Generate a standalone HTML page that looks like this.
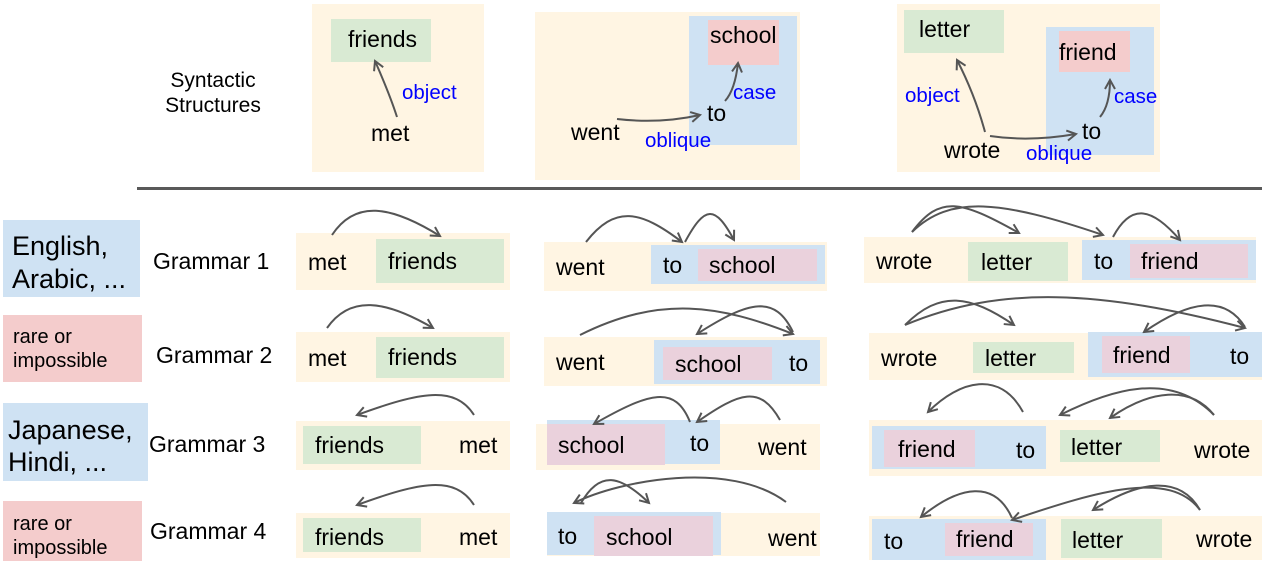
<!DOCTYPE html>
<html><head><meta charset="utf-8"><style>
body{margin:0;background:#fff}
svg{display:block}
text{font-family:"Liberation Sans",sans-serif;fill:#000}
.b{fill:#00f}
</style></head><body>
<svg width="1262" height="561" viewBox="0 0 1262 561" xmlns="http://www.w3.org/2000/svg">
<defs>
<marker id="a" viewBox="0 0 12 12" refX="10" refY="6" markerWidth="12" markerHeight="12" markerUnits="userSpaceOnUse" orient="auto">
<path d="M1,1 L10,6 L1,11" fill="none" stroke="#555" stroke-width="2"/>
</marker>
</defs>
<g fill="#fff5e3">
<rect x="312" y="4" width="172" height="168"/>
<rect x="535" y="12" width="265" height="168"/>
<rect x="897" y="4" width="263" height="168"/>
</g>
<rect x="331" y="19" width="100" height="43" fill="#d9ead3"/>
<rect x="689" y="16" width="108" height="129" fill="#cfe2f3"/>
<rect x="708" y="20" width="71" height="45" fill="#f4cccc"/>
<rect x="904" y="10" width="100" height="43" fill="#d9ead3"/>
<rect x="1046" y="27" width="108" height="128" fill="#cfe2f3"/>
<rect x="1059" y="31" width="71" height="41" fill="#f4cccc"/>
<g font-size="23">
<text x="213" y="87" text-anchor="middle" font-size="21">Syntactic</text>
<text x="213" y="112" text-anchor="middle" font-size="21">Structures</text>
<text x="348" y="47">friends</text><text x="371" y="141">met</text>
<text x="710" y="43">school</text><text x="571" y="140">went</text><text x="707" y="121">to</text>
<text x="919" y="37">letter</text><text x="1059" y="60">friend</text><text x="944" y="158">wrote</text><text x="1082" y="139">to</text>
</g>
<g font-size="20.5">
<text class="b" x="402" y="99">object</text>
<text class="b" x="733" y="99">case</text><text class="b" x="645" y="147">oblique</text>
<text class="b" x="905" y="102">object</text><text class="b" x="1114" y="103">case</text><text class="b" x="1026" y="160">oblique</text>
</g>
<g fill="none" stroke="#555" stroke-width="2" marker-end="url(#a)">
<path d="M397,117 Q390,95 375,61"/>
<path d="M617,119 Q660,124 700,115"/>
<path d="M725,101 Q735,90 738,63"/>
<path d="M985,132 Q975,95 957,60"/>
<path d="M990,136 Q1030,142 1076,134"/>
<path d="M1100,117 Q1110,105 1110,80"/>
</g>
<rect x="137" y="187" width="1125" height="3" fill="#595959"/>

<rect x="3" y="220" width="137" height="77" fill="#cfe2f3"/>
<rect x="3" y="315" width="139" height="67" fill="#f4cccc"/>
<rect x="3" y="403" width="145" height="78" fill="#cfe2f3"/>
<rect x="3" y="501" width="139" height="60" fill="#f4cccc"/>
<g font-size="27">
<text x="12" y="255">English,</text><text x="12" y="288">Arabic, ...</text>
<text x="8" y="439">Japanese,</text><text x="8" y="471">Hindi, ...</text>
</g>
<g font-size="20">
<text x="13" y="343">rare or</text><text x="13" y="367">impossible</text>
<text x="13" y="530">rare or</text><text x="13" y="554">impossible</text>
</g>
<g font-size="23">
<text x="153" y="269">Grammar 1</text><text x="156" y="363">Grammar 2</text>
<text x="149" y="452">Grammar 3</text><text x="150" y="539">Grammar 4</text>
</g>

<g fill="#fff5e3">
<rect x="296" y="233" width="214" height="57"/><rect x="296" y="332" width="214" height="50"/>
<rect x="296" y="421" width="214" height="49"/><rect x="296" y="513" width="214" height="45"/>
<rect x="544" y="242" width="283" height="49"/><rect x="544" y="337" width="283" height="49"/>
<rect x="536" y="424" width="284" height="46"/><rect x="547" y="513" width="273" height="43"/>
<rect x="864" y="237" width="392" height="46"/><rect x="869" y="333" width="393" height="47"/>
<rect x="869" y="420" width="393" height="56"/><rect x="869" y="516" width="393" height="44"/>
</g>
<g fill="#d9ead3">
<rect x="376" y="239" width="128" height="44"/><rect x="376" y="337" width="128" height="41"/>
<rect x="303" y="426" width="118" height="38"/><rect x="303" y="518" width="118" height="34"/>
<rect x="968" y="242" width="100" height="39"/><rect x="973" y="342" width="101" height="31"/>
<rect x="1060" y="430" width="100" height="32"/><rect x="1061" y="519" width="101" height="39"/>
</g>
<g fill="#cfe2f3">
<rect x="651" y="245" width="174" height="39"/><rect x="654" y="340" width="166" height="44"/>
<rect x="547" y="420" width="173" height="44"/><rect x="547" y="512" width="174" height="43"/>
<rect x="1082" y="240" width="174" height="40"/><rect x="1088" y="332" width="174" height="45"/>
<rect x="872" y="426" width="174" height="43"/><rect x="872" y="519" width="174" height="41"/>
</g>
<g fill="#ead1dc">
<rect x="698" y="249" width="119" height="32"/><rect x="663" y="347" width="109" height="33"/>
<rect x="547" y="424" width="118" height="41"/><rect x="594" y="516" width="119" height="40"/>
<rect x="1130" y="244" width="118" height="34"/><rect x="1102" y="336" width="88" height="37"/>
<rect x="884" y="430" width="91" height="37"/><rect x="945" y="523" width="88" height="33"/>
</g>
<g font-size="23">
<text x="308" y="270">met</text><text x="388" y="269">friends</text>
<text x="308" y="366">met</text><text x="388" y="365">friends</text>
<text x="315" y="453">friends</text><text x="459" y="453">met</text>
<text x="315" y="545">friends</text><text x="459" y="545">met</text>
<text x="556" y="275">went</text><text x="663" y="273">to</text><text x="709" y="273">school</text>
<text x="556" y="370">went</text><text x="675" y="372">school</text><text x="789" y="371">to</text>
<text x="558" y="453">school</text><text x="690" y="451">to</text><text x="758" y="455">went</text>
<text x="558" y="544">to</text><text x="606" y="545">school</text><text x="768" y="546">went</text>
<text x="876" y="269">wrote</text><text x="981" y="270">letter</text><text x="1094" y="269">to</text><text x="1141" y="269">friend</text>
<text x="881" y="366">wrote</text><text x="985" y="366">letter</text><text x="1113" y="363">friend</text><text x="1230" y="364">to</text>
<text x="898" y="457">friend</text><text x="1016" y="458">to</text><text x="1071" y="455">letter</text><text x="1194" y="458">wrote</text>
<text x="884" y="549">to</text><text x="956" y="547">friend</text><text x="1072" y="548">letter</text><text x="1196" y="547">wrote</text>
</g>
<g fill="none" stroke="#555" stroke-width="2" marker-end="url(#a)">
<path d="M332,235 C355,200 390,205 440,236"/>
<path d="M327,328 C350,295 385,300 433,328"/>
<path d="M474,415 C455,385 420,392 357,415"/>
<path d="M474,505 C455,475 420,482 357,505"/>
<path d="M586,242 C615,205 640,210 682,242"/>
<path d="M685,242 C705,205 715,205 734,240"/>
<path d="M580,335 C660,295 720,305 793,334"/>
<path d="M793,332 C775,295 750,300 697,334"/>
<path d="M690,422 C675,385 650,392 594,424"/>
<path d="M780,420 C760,385 740,392 697,422"/>
<path d="M786,502 C730,460 620,480 574,503"/>
<path d="M581,503 C600,470 620,475 649,503"/>
<path d="M912,232 C940,195 960,200 1019,233"/>
<path d="M912,232 C950,195 1000,200 1103,235"/>
<path d="M1113,237 C1130,205 1150,205 1180,240"/>
<path d="M905,325 C940,290 970,295 1014,325"/>
<path d="M905,325 C1000,285 1100,290 1245,328"/>
<path d="M1245,327 C1225,295 1190,300 1144,332"/>
<path d="M1023,412 C1000,370 960,380 928,412"/>
<path d="M1214,415 C1170,370 1110,390 1060,415"/>
<path d="M1214,415 C1190,385 1150,390 1110,418"/>
<path d="M1012,518 C995,480 960,485 921,517"/>
<path d="M1200,510 C1170,470 1100,490 1012,520"/>
<path d="M1200,510 C1180,475 1140,480 1093,510"/>
</g>
</svg>
</body></html>
